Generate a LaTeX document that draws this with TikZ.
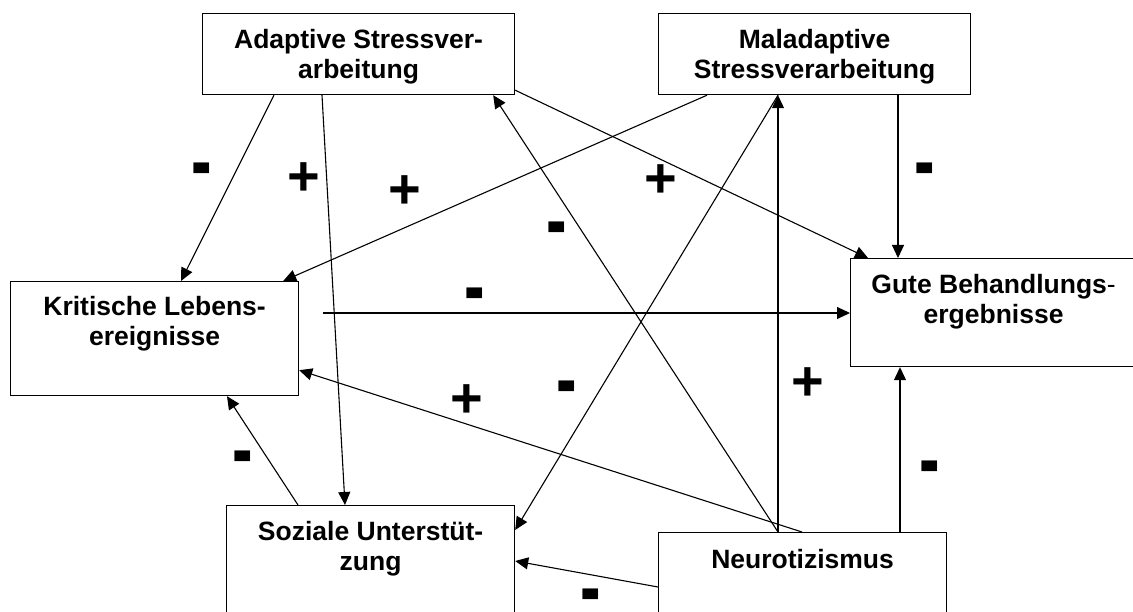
\documentclass[tikz,border=0pt]{standalone}
\usepackage{fontspec}
\setmainfont{Liberation Sans}
\usetikzlibrary{arrows.meta, calc}

\newcommand{\plussign}{+}
\newcommand{\minussign}{\raisebox{-24pt}[4.5pt][4.5pt]{\scalebox{1.1}[1.6]{-}}}

\begin{document}
\begin{tikzpicture}[
    x=1pt, y=-1pt,
    box/.style   = {draw=black, line width=1.2pt, rectangle, inner sep=0pt, anchor=north west},
    lbl/.style   = {align=center, inner sep=0pt, anchor=north,
                    font=\fontsize{26.5}{30.5}\selectfont\bfseries},
    sign/.style  = {inner sep=0pt, font=\fontsize{56}{56}\selectfont\bfseries},
    arr/.style   = {-{Triangle[length=13pt, width=12pt]}, line width=1.1pt},
]
\useasboundingbox (0,0) rectangle (1133,612);

%% ---- Boxes ----
\node[box, minimum width=312pt, minimum height=81pt]  (adapt)  at (202,13)  {};
\node[box, minimum width=312pt, minimum height=81pt]  (malad)  at (658,13)  {};
\node[box, minimum width=288pt, minimum height=114pt] (krit)   at (10,281)  {};
\node[box, minimum width=286pt, minimum height=108pt] (gute)   at (850,258) {};
\node[box, minimum width=288pt, minimum height=120pt] (sozial) at (226,505) {};
\node[box, minimum width=288pt, minimum height=100pt] (neuro)  at (658,532) {};

%% ---- Box texts (top of each box) ----
\node[lbl] (adaptT)  at ([yshift=-16pt]adapt.north)  {Adaptive Stressver-\\arbeitung};
\node[lbl] (maladT)  at ([yshift=-16pt]malad.north)  {Maladaptive\\Stressverarbeitung};
\node[lbl] (kritT)   at ([yshift=-15pt]krit.north)   {Kritische Lebens-\\ereignisse};
\node[lbl] (guteT)   at ([yshift=-16pt]gute.north)   {Gute Behandlungs{\mdseries -}\\ergebnisse};
\node[lbl] (sozialT) at ([yshift=-16pt]sozial.north) {Soziale Unterst\"ut-\\zung};
\node[lbl] (neuroT)  at ([yshift=-17pt]neuro.north)  {Neurotizismus};

%% ---- Paths ----
% from Adaptive
\draw[arr] ([xshift=72pt]adapt.south west) -- ([xshift=171pt]krit.north west);
\draw[arr] ([xshift=120pt]adapt.south west) -- ([xshift=119pt]sozial.north west);
\draw[arr] ([yshift=5pt]adapt.south east) -- ([xshift=18pt]gute.north west);
% from Maladaptive
\draw[arr] ([xshift=49pt]malad.south west) -- ([xshift=-16pt]krit.north east);
\draw[arr] ([xshift=240pt]malad.south west) -- ([xshift=48pt]gute.north west);
\draw[arr] ([xshift=120pt]malad.south west) -- ([yshift=-25pt]sozial.north east);
% from Kritische / Soziale
\draw[arr] ([xshift=24pt,yshift=-32pt]krit.north east) -- ([yshift=-55pt]gute.north west);
\draw[arr] ([xshift=72pt]sozial.north west) -- ([xshift=217pt]krit.south west);
% from Neurotizismus
\draw[arr] ([xshift=120pt]neuro.north west) -- ([xshift=120pt]malad.south west);
\draw[arr] ([xshift=120pt]neuro.north west) -- ([xshift=-22pt]adapt.south east);
\draw[arr] ([xshift=144pt]neuro.north west) -- ([yshift=26pt]krit.south east);
\draw[arr] ([xshift=242pt]neuro.north west) -- ([xshift=50pt]gute.south west);
\draw[arr] ([yshift=-55pt]neuro.north west) -- ([yshift=-56pt]sozial.north east);

%% ---- Signs ----
\node[sign] (s1)  at (202,168) {\minussign};
\node[sign] (s2)  at (304,179) {\plussign};
\node[sign] (s3)  at (405,192) {\plussign};
\node[sign] (s4)  at (661,181) {\plussign};
\node[sign] (s5)  at (557,227) {\minussign};
\node[sign] (s6)  at (925,168) {\minussign};
\node[sign] (s7)  at (475,293) {\minussign};
\node[sign] (s8)  at (467,401) {\plussign};
\node[sign] (s9)  at (567,386) {\minussign};
\node[sign] (s10) at (808,384) {\plussign};
\node[sign] (s11) at (243,455) {\minussign};
\node[sign] (s12) at (930,465) {\minussign};
\node[sign] (s13) at (591,593) {\minussign};

\end{tikzpicture}
\end{document}
